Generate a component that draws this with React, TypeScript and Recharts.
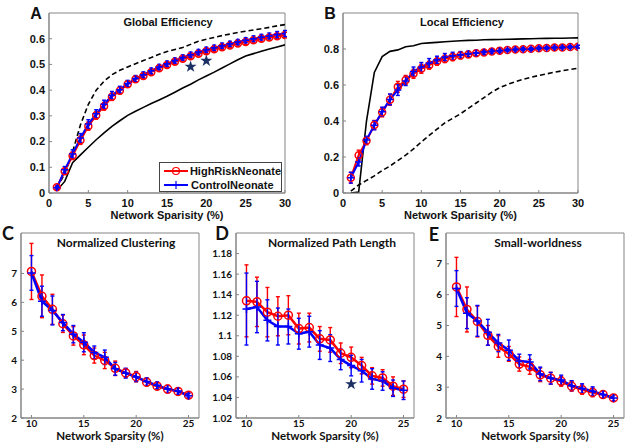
import React from 'react';
import { ComposedChart, Line, XAxis, YAxis, ErrorBar, Legend, Symbols, ReferenceArea } from 'recharts';

// ---- A: global efficiency ----
const sparsityTop = [1, 2, 3, 4, 5, 6, 7, 8, 9, 10, 11, 12, 13, 14, 15, 16, 17, 18, 19, 20, 21, 22, 23, 24, 25, 26, 27, 28, 29, 30];
const geHigh = [0.022, 0.085, 0.145, 0.205, 0.26, 0.302, 0.337, 0.374, 0.398, 0.423, 0.442, 0.455, 0.47, 0.485, 0.498, 0.51, 0.522, 0.532, 0.542, 0.551, 0.559, 0.567, 0.574, 0.581, 0.587, 0.594, 0.6, 0.605, 0.61, 0.614];
const geHighErr = [0.006, 0.012, 0.015, 0.016, 0.016, 0.015, 0.015, 0.014, 0.013, 0.012, 0.011, 0.011, 0.01, 0.01, 0.01, 0.009, 0.009, 0.009, 0.009, 0.009, 0.009, 0.009, 0.009, 0.009, 0.009, 0.01, 0.01, 0.01, 0.01, 0.011];
const geCtrl = [0.02, 0.09, 0.152, 0.214, 0.268, 0.308, 0.345, 0.38, 0.402, 0.426, 0.445, 0.46, 0.475, 0.49, 0.503, 0.515, 0.527, 0.538, 0.548, 0.557, 0.565, 0.573, 0.58, 0.587, 0.594, 0.6, 0.606, 0.611, 0.616, 0.62];
const geCtrlErr = [0.006, 0.013, 0.016, 0.017, 0.017, 0.016, 0.016, 0.015, 0.013, 0.012, 0.012, 0.011, 0.011, 0.01, 0.01, 0.01, 0.01, 0.01, 0.01, 0.01, 0.01, 0.01, 0.01, 0.01, 0.01, 0.011, 0.011, 0.011, 0.012, 0.012];
const geRand = [0.02, 0.075, 0.16, 0.265, 0.345, 0.4, 0.435, 0.46, 0.477, 0.49, 0.503, 0.515, 0.527, 0.54, 0.55, 0.558, 0.566, 0.578, 0.59, 0.598, 0.605, 0.612, 0.618, 0.624, 0.629, 0.634, 0.639, 0.644, 0.65, 0.655];
const geLatt = [0.01, 0.045, 0.118, 0.148, 0.178, 0.207, 0.234, 0.259, 0.281, 0.302, 0.318, 0.333, 0.348, 0.362, 0.376, 0.392, 0.408, 0.423, 0.44, 0.455, 0.47, 0.486, 0.502, 0.518, 0.533, 0.542, 0.551, 0.56, 0.568, 0.576];
const geStarX = [18, 20];
const geStarY = [0.491, 0.514];

// ---- B: local efficiency ----
const leHigh = [0.085, 0.21, 0.29, 0.378, 0.448, 0.518, 0.59, 0.628, 0.662, 0.69, 0.71, 0.73, 0.745, 0.755, 0.764, 0.77, 0.776, 0.781, 0.786, 0.79, 0.794, 0.797, 0.799, 0.801, 0.804, 0.806, 0.808, 0.809, 0.811, 0.812];
const leHighErr = [0.03, 0.028, 0.022, 0.025, 0.025, 0.03, 0.03, 0.025, 0.025, 0.025, 0.022, 0.02, 0.02, 0.02, 0.018, 0.015, 0.015, 0.012, 0.01, 0.01, 0.008, 0.008, 0.008, 0.008, 0.008, 0.008, 0.008, 0.008, 0.008, 0.008];
const leCtrl = [0.085, 0.172, 0.295, 0.376, 0.452, 0.52, 0.572, 0.622, 0.675, 0.7, 0.722, 0.74, 0.755, 0.762, 0.768, 0.773, 0.778, 0.783, 0.787, 0.79, 0.795, 0.797, 0.799, 0.8, 0.804, 0.806, 0.808, 0.809, 0.811, 0.813];
const leCtrlErr = [0.03, 0.022, 0.02, 0.025, 0.025, 0.03, 0.03, 0.025, 0.025, 0.025, 0.025, 0.02, 0.02, 0.02, 0.018, 0.015, 0.015, 0.012, 0.01, 0.01, 0.008, 0.008, 0.008, 0.008, 0.008, 0.008, 0.008, 0.008, 0.008, 0.008];
const leRand = [0.01, 0.045, 0.07, 0.095, 0.125, 0.15, 0.18, 0.21, 0.245, 0.284, 0.32, 0.355, 0.39, 0.415, 0.44, 0.47, 0.5, 0.53, 0.56, 0.585, 0.603, 0.618, 0.632, 0.643, 0.653, 0.662, 0.671, 0.679, 0.686, 0.693];
const leLatt = [0.0, 0.005, 0.4, 0.67, 0.758, 0.787, 0.795, 0.813, 0.818, 0.831, 0.834, 0.837, 0.84, 0.843, 0.846, 0.848, 0.849, 0.851, 0.852, 0.853, 0.854, 0.855, 0.856, 0.857, 0.858, 0.859, 0.86, 0.86, 0.861, 0.862];

// ---- C/D/E ----
const sparsityBottom = [10, 11, 12, 13, 14, 15, 16, 17, 18, 19, 20, 21, 22, 23, 24, 25];
const ncHigh = [7.07, 6.21, 5.76, 5.26, 4.84, 4.53, 4.16, 3.99, 3.72, 3.56, 3.43, 3.24, 3.1, 3.0, 2.92, 2.79];
const ncHighErr = [0.97, 0.74, 0.52, 0.3, 0.32, 0.34, 0.26, 0.28, 0.25, 0.15, 0.18, 0.13, 0.12, 0.13, 0.12, 0.08];
const ncCtrl = [7.02, 6.04, 5.72, 5.3, 4.9, 4.62, 4.27, 4.1, 3.7, 3.55, 3.42, 3.26, 3.13, 3.0, 2.93, 2.77];
const ncCtrlErr = [0.6, 0.52, 0.5, 0.28, 0.3, 0.33, 0.22, 0.25, 0.22, 0.17, 0.16, 0.13, 0.12, 0.12, 0.11, 0.08];

const nlHigh = [1.134, 1.133, 1.123, 1.119, 1.12, 1.107, 1.108, 1.097, 1.096, 1.083, 1.079, 1.071, 1.061, 1.059, 1.051, 1.048];
const nlHighErr = [0.035, 0.024, 0.024, 0.019, 0.019, 0.015, 0.014, 0.012, 0.012, 0.01, 0.01, 0.008, 0.008, 0.008, 0.009, 0.008];
const nlCtrl = [1.126, 1.128, 1.115, 1.109, 1.109, 1.102, 1.104, 1.091, 1.088, 1.077, 1.071, 1.066, 1.058, 1.056, 1.049, 1.047];
const nlCtrlErr = [0.035, 0.025, 0.02, 0.018, 0.017, 0.015, 0.015, 0.014, 0.013, 0.01, 0.01, 0.011, 0.01, 0.009, 0.008, 0.009];
const nlStarX = [20];
const nlStarY = [1.053];

const swHigh = [6.25, 5.52, 5.13, 4.68, 4.32, 4.08, 3.75, 3.66, 3.4, 3.29, 3.19, 3.03, 2.92, 2.83, 2.76, 2.65];
const swHighErr = [0.96, 0.73, 0.5, 0.32, 0.35, 0.24, 0.23, 0.24, 0.22, 0.19, 0.16, 0.16, 0.15, 0.14, 0.12, 0.1];
const swCtrl = [6.2, 5.4, 5.15, 4.78, 4.43, 4.2, 3.85, 3.82, 3.43, 3.29, 3.23, 3.05, 2.96, 2.87, 2.76, 2.65];
const swCtrlErr = [0.58, 0.5, 0.5, 0.42, 0.28, 0.33, 0.22, 0.23, 0.22, 0.19, 0.16, 0.16, 0.15, 0.14, 0.12, 0.1];

const topXTicks = [0, 5, 10, 15, 20, 25, 30];
const bottomXTicks = [10, 15, 20, 25];
const geTicks = [0, 0.1, 0.2, 0.3, 0.4, 0.5, 0.6];
const leTicks = [0, 0.2, 0.4, 0.6, 0.8];
const ncTicks = [2, 3, 4, 5, 6, 7];
const nlTicks = [1.02, 1.04, 1.06, 1.08, 1.1, 1.12, 1.14, 1.16, 1.18];
const swTicks = [2, 3, 4, 5, 6, 7];
const legendOrder = ['HighRiskNeonate', 'ControlNeonate'];

const RED = '#ff0000';
const BLUE = '#0000ff';
const STAR = '#1b2f63';
const FONT_TOP = '"Liberation Sans", Arial, sans-serif';
const FONT_BOT = 'Lato, "Open Sans", sans-serif';

function buildRows(xs: number[], high: number[], highErr: number[], ctrl: number[], ctrlErr: number[], rand?: number[], latt?: number[], starX: number[] = [], starY: number[] = []) {
  return xs.map((x, i) => {
    const s = starX.indexOf(x);
    return {
      x,
      high: high[i],
      highErr: highErr[i],
      ctrl: ctrl[i],
      ctrlErr: ctrlErr[i],
      rand: rand ? rand[i] : null,
      latt: latt ? latt[i] : null,
      star: s >= 0 ? starY[s] : null,
    };
  });
}

const rowsA = buildRows(sparsityTop, geHigh, geHighErr, geCtrl, geCtrlErr, geRand, geLatt, geStarX, geStarY);
const rowsB = buildRows(sparsityTop, leHigh, leHighErr, leCtrl, leCtrlErr, leRand, leLatt);
const rowsC = buildRows(sparsityBottom, ncHigh, ncHighErr, ncCtrl, ncCtrlErr);
const rowsD = buildRows(sparsityBottom, nlHigh, nlHighErr, nlCtrl, nlCtrlErr, undefined, undefined, nlStarX, nlStarY);
const rowsE = buildRows(sparsityBottom, swHigh, swHighErr, swCtrl, swCtrlErr);

const fmt = (v: number) => String(+Number(v).toFixed(2));

const circleDot = (r: number) => (p: any) =>
  p.cx == null || p.cy == null || p.value == null
    ? <g key={`c${p.index}`} />
    : <circle key={`c${p.index}`} cx={p.cx} cy={p.cy} r={r} fill="none" stroke={RED} strokeWidth={1.5} />;

const plusDot = (r: number) => (p: any) =>
  p.cx == null || p.cy == null || p.value == null
    ? <g key={`p${p.index}`} />
    : <path key={`p${p.index}`} d={`M${p.cx - r},${p.cy}H${p.cx + r}M${p.cx},${p.cy - r}V${p.cy + r}`} stroke={BLUE} strokeWidth={1.5} />;

const starDot = (p: any) =>
  p.cx == null || p.cy == null || p.value == null
    ? <g key={`s${p.index}`} />
    : <Symbols key={`s${p.index}`} cx={p.cx} cy={p.cy} type="star" size={45} fill={STAR} />;

const renderLegend = (props: any) => {
  const items = (props.payload || [])
    .filter((it: any) => legendOrder.includes(it.value))
    .sort((a: any, b: any) => legendOrder.indexOf(a.value) - legendOrder.indexOf(b.value));
  return (
    <div style={{ border: '1px solid #444', background: '#fff', width: 123, height: 30, boxSizing: 'border-box', paddingTop: 1 }}>
      {items.map((it: any) => (
        <div key={it.value} style={{ display: 'flex', alignItems: 'center', height: 14 }}>
          <svg width={28} height={12} style={{ marginLeft: 3 }}>
            <line x1={1} x2={25} y1={6} y2={6} stroke={it.color} strokeWidth={2} />
            {it.value === 'HighRiskNeonate'
              ? <circle cx={13} cy={6} r={3.5} fill="none" stroke={RED} strokeWidth={1.2} />
              : <path d="M9,6H17M13,2V10" stroke={BLUE} strokeWidth={1.2} />}
          </svg>
          <span style={{ fontFamily: FONT_TOP, fontWeight: 700, fontSize: 11, color: '#111', lineHeight: '14px' }}>{it.value}</span>
        </div>
      ))}
    </div>
  );
};

type PanelProps = {
  left: number; top: number; width: number; height: number;
  mTop: number; mRight: number; yWidth: number; xHeight: number;
  xDomain: [number, number]; xTicks: number[];
  yDomain: [number, number]; yTicks: number[];
  data: any[]; font: string; tickFs: number; labelFs: number;
  gapX: number; gapY: number; xLabel: string; labelOffset: number;
  lineW: number; dotR: number; refs?: boolean; legend?: boolean;
};

function Panel(p: PanelProps) {
  const frame = '#858585';
  const tickStyle = { fill: '#111', fontSize: p.tickFs, fontWeight: 700, fontFamily: p.font };
  return (
    <div style={{ position: 'absolute', left: p.left, top: p.top }}>
      <ComposedChart width={p.width} height={p.height} data={p.data} margin={{ top: p.mTop, right: p.mRight, bottom: 0, left: 0 }}>
        <XAxis dataKey="x" type="number" domain={p.xDomain} ticks={p.xTicks} interval={0} allowDataOverflow
          stroke={frame} tickSize={-3} tickMargin={p.gapX + 3} height={p.xHeight} tick={tickStyle}
          label={{ value: p.xLabel, position: 'insideBottom', offset: p.labelOffset, fill: '#111', fontSize: p.labelFs, fontWeight: 700, fontFamily: p.font }} />
        <YAxis type="number" domain={p.yDomain} ticks={p.yTicks} interval={0} allowDataOverflow
          stroke={frame} tickSize={-3} tickMargin={p.gapY + 3} width={p.yWidth} tick={tickStyle} tickFormatter={fmt} />
        <ReferenceArea x1={p.xDomain[0]} x2={p.xDomain[1]} y1={p.yDomain[0]} y2={p.yDomain[1]} fill="none" stroke={frame} strokeWidth={1} ifOverflow="visible" />
        {p.refs && <Line dataKey="rand" type="linear" stroke="#000" strokeWidth={1.6} strokeDasharray="5 3" dot={false} activeDot={false} legendType="none" isAnimationActive={false} />}
        {p.refs && <Line dataKey="latt" type="linear" stroke="#000" strokeWidth={1.6} dot={false} activeDot={false} legendType="none" isAnimationActive={false} />}
        <Line name="HighRiskNeonate" dataKey="high" type="linear" stroke={RED} strokeWidth={p.lineW} dot={circleDot(p.dotR)} activeDot={false} isAnimationActive={false}>
          <ErrorBar dataKey="highErr" width={2} stroke={RED} strokeWidth={1.4} direction="y" isAnimationActive={false} />
        </Line>
        <Line name="ControlNeonate" dataKey="ctrl" type="linear" stroke={BLUE} strokeWidth={p.lineW} dot={plusDot(p.dotR)} activeDot={false} isAnimationActive={false}>
          <ErrorBar dataKey="ctrlErr" width={2} stroke={BLUE} strokeWidth={1.4} direction="y" isAnimationActive={false} />
        </Line>
        <Line dataKey="star" stroke="none" dot={starDot} activeDot={false} legendType="none" isAnimationActive={false} />
        {p.legend && (
          <Legend layout="vertical" align="center" verticalAlign="middle" wrapperStyle={{ left: 159, top: 162, width: 123 }} content={renderLegend} />
        )}
      </ComposedChart>
    </div>
  );
}

function Caption({ text, cx, cy, fs, font }: { text: string; cx: number; cy: number; fs: number; font: string }) {
  return (
    <div style={{ position: 'absolute', left: cx - 120, top: cy - fs / 2 - 1, width: 240, textAlign: 'center', fontFamily: font, fontWeight: 700, fontSize: fs, lineHeight: `${fs + 2}px`, color: '#111', whiteSpace: 'nowrap' }}>
      {text}
    </div>
  );
}

export default function App() {
  const topCommon = { mTop: 13, xHeight: 29, height: 222, font: FONT_TOP, tickFs: 11, labelFs: 11, gapX: 6, gapY: 4, labelOffset: 3, xLabel: 'Network Sparisity (%)', lineW: 2, dotR: 3.5, xDomain: [0, 30] as [number, number], xTicks: topXTicks };
  const botCommon = { mTop: 13, xHeight: 28, height: 226, font: FONT_BOT, tickFs: 10, labelFs: 11.5, gapX: 2, gapY: 4, labelOffset: 6, xLabel: 'Network Sparsity (%)', lineW: 2.5, dotR: 4, xDomain: [9, 26] as [number, number], xTicks: bottomXTicks };
  return (
    <div style={{ position: 'absolute', left: 0, top: 0, width: 629, height: 446, background: '#fff', overflow: 'hidden' }}>
      <Panel {...topCommon} left={0} top={0} width={300} mRight={15} yWidth={49} yDomain={[0, 0.7]} yTicks={geTicks} data={rowsA} refs legend />
      <Panel {...topCommon} left={300} top={0} width={329} mRight={51} yWidth={43} yDomain={[0, 1]} yTicks={leTicks} data={rowsB} refs />
      <Panel {...botCommon} left={0} top={220} width={215} mRight={16} yWidth={21} yDomain={[2, 8.4]} yTicks={ncTicks} data={rowsC} />
      <Panel {...botCommon} left={205} top={220} width={215} mRight={6} yWidth={31} yDomain={[1.02, 1.2]} yTicks={nlTicks} data={rowsD} />
      <Panel {...botCommon} left={415} top={220} width={214} mRight={5} yWidth={31} yDomain={[2, 8]} yTicks={swTicks} data={rowsE} />

      <Caption text="Global Efficiency" cx={168} cy={22} fs={11} font={FONT_TOP} />
      <Caption text="Local Efficiency" cx={462} cy={22} fs={11} font={FONT_TOP} />
      <Caption text="Normalized Clustering" cx={116} cy={243} fs={12} font={FONT_BOT} />
      <Caption text="Normalized Path Length" cx={332} cy={243} fs={12} font={FONT_BOT} />
      <Caption text="Small-worldness" cx={538} cy={243} fs={12} font={FONT_BOT} />

      <Caption text="A" cx={36} cy={14} fs={16} font={FONT_TOP} />
      <Caption text="B" cx={330} cy={14} fs={16} font={FONT_TOP} />
      <Caption text="C" cx={8} cy={233} fs={18} font={FONT_BOT} />
      <Caption text="D" cx={222} cy={233} fs={18} font={FONT_BOT} />
      <Caption text="E" cx={434} cy={234} fs={18} font={FONT_BOT} />
    </div>
  );
}
